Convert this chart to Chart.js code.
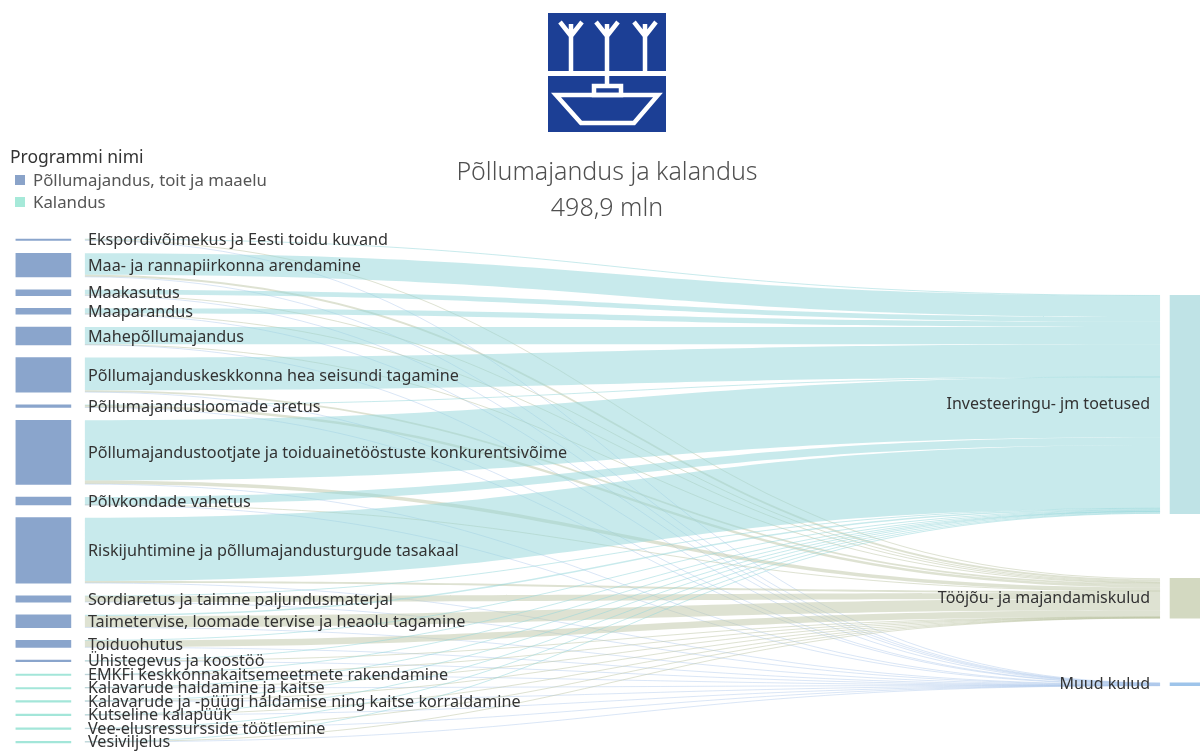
<!DOCTYPE html>
<html>
<head>
<meta charset="utf-8">
<script src="https://cdn.jsdelivr.net/npm/chart.js@4.4.1/dist/chart.umd.min.js"></script>
<style>
  html, body { margin:0; padding:0; background:#fff; width:1200px; height:754px; overflow:hidden; }
  #wrap { position:relative; width:1200px; height:754px; font-family:"Noto Sans", sans-serif; }
  #c { position:absolute; left:0; top:0; }
  #logo { position:absolute; left:548px; top:13px; }
  #title { position:absolute; left:0; width:1214px; top:152px; text-align:center; color:#4f4f4f; font-size:25px; line-height:36px; font-weight:300; }
  #legend { position:absolute; left:10px; top:144px; color:#555; }
  #legend .lt { font-size:17.5px; color:#333; line-height:25px; }
  #legend .li { font-size:16.8px; line-height:22px; padding-left:5px; }
  #legend .sw { display:inline-block; width:10px; height:10px; margin-right:8px; vertical-align:1px; }
</style>
</head>
<body>
<div id="wrap">
  <canvas id="c" width="1200" height="754"></canvas>
  <svg id="logo" width="118" height="119" viewBox="0 0 118 119">
    <rect x="0" y="0" width="118" height="58" fill="#1c3f95"/>
    <rect x="0" y="63" width="118" height="56" fill="#1c3f95"/>
    <g stroke="#fff" stroke-width="4.5" fill="none" stroke-linecap="butt" stroke-linejoin="miter">
      <path d="M23 58 V23 M12 9 L23 23 L34 9 M23 23 V11"/>
      <path d="M59 58 V23 M48 9 L59 23 L70 9 M59 23 V11"/>
      <path d="M97 58 V23 M86 9 L97 23 L108 9 M97 23 V11"/>
      <path d="M59 63 V73"/>
      <rect x="46" y="73" width="27" height="9"/>
      <path d="M8 82 H110 L86 110 H33 Z"/>
    </g>
  </svg>
  <div id="title">Põllumajandus ja kalandus<br>498,9 mln</div>
  <div id="legend">
    <div class="lt">Programmi nimi</div>
    <div class="li"><span class="sw" style="background:#8aa3c9"></span>Põllumajandus, toit ja maaelu</div>
    <div class="li"><span class="sw" style="background:#a6e9d9"></span>Kalandus</div>
  </div>
</div>
<script>
// ---- data (mln €) ----
const sources = [
  "Ekspordivõimekus ja Eesti toidu kuvand",
  "Maa- ja rannapiirkonna arendamine",
  "Maakasutus",
  "Maaparandus",
  "Mahepõllumajandus",
  "Põllumajanduskeskkonna hea seisundi tagamine",
  "Põllumajandusloomade aretus",
  "Põllumajandustootjate ja toiduainetööstuste konkurentsivõime",
  "Põlvkondade vahetus",
  "Riskijuhtimine ja põllumajandusturgude tasakaal",
  "Sordiaretus ja taimne paljundusmaterjal",
  "Taimetervise, loomade tervise ja heaolu tagamine",
  "Toiduohutus",
  "Ühistegevus ja koostöö",
  "EMKFi keskkonnakaitsemeetmete rakendamine",
  "Kalavarude haldamine ja kaitse",
  "Kalavarude ja -püügi haldamise ning kaitse korraldamine",
  "Kutseline kalapüük",
  "Vee-elusressursside töötlemine",
  "Vesiviljelus"
];
const programs = ["Põllumajandus, toit ja maaelu", "Kalandus"];
const sourceProgram = [0,0,0,0,0,0,0,0,0,0,0,0,0,0,1,1,1,1,1,1];
const targets = ["Investeeringu- jm toetused", "Tööjõu- ja majandamiskulud", "Muud kulud"];
const toInvest = [0.6, 42, 9.5, 10, 34, 64, 0.3, 118, 15.2, 124, 0.4, 2.5, 0.5, 1.5, 1.1, 0.3, 0.6, 1.6, 1.2, 0.9];
const toLabour = [2, 4, 1.8, 1.3, 0.8, 3.5, 4.5, 7, 0.2, 4, 11.5, 22, 13, 0.3, 0.3, 0.4, 0.8, 0.3, 0.2, 0.2];
const toOther  = [0.4, 0.5, 0.3, 0.3, 0.2, 0.4, 0.2, 0.7, 0.1, 0.5, 0.2, 0.5, 0.5, 0.2, 0.1, 0.1, 0.1, 0.1, 0.1, 0.1];

// ---- styles ----
const programColors = ["#8aa5cc", "#a3e6d9"];
const targetColors = ["#bfe3e6", "#d3d9c1", "#9ec4ea"];
const flowColors = ["rgba(150,214,218,0.52)", "rgba(190,198,166,0.5)", "rgba(172,200,236,0.45)"];
const GAP_L = 25;    // gap between left nodes (value units)
const GAP_R = 127;   // gap between right nodes (value units)
const LEFT_W = 55, RIGHT_W = 30;

// ---- layout in value space ----
const flowSets = [toInvest, toLabour, toOther];
const srcTotals = sources.map((_, i) => toInvest[i] + toLabour[i] + toOther[i]);
const tgtTotals = flowSets.map(a => a.reduce((s, v) => s + v, 0));
const leftNodes = [];
let acc = 0;
srcTotals.forEach((v, i) => { leftNodes.push({y0: acc, y1: acc + v}); acc += v + (i < srcTotals.length - 1 ? GAP_L : 0); });
const span = acc;
const rightSpan = tgtTotals.reduce((s, v) => s + v, 0) + GAP_R * (targets.length - 1);
const rightNodes = [];
acc = (span - rightSpan) / 2;
tgtTotals.forEach((v) => { rightNodes.push({y0: acc, y1: acc + v}); acc += v + GAP_R; });

const flows = [];
const srcOff = leftNodes.map(n => n.y0);
const tgtOff = rightNodes.map(n => n.y0);
sources.forEach((_, i) => {
  flowSets.forEach((arr, t) => {
    const v = arr[i];
    flows.push({t, s0: srcOff[i], s1: srcOff[i] + v, t0: tgtOff[t], t1: tgtOff[t] + v});
    srcOff[i] += v; tgtOff[t] += v;
  });
});

const sankeyPlugin = {
  id: 'sankeyFlows',
  beforeDatasetsDraw(chart) {
    const {ctx} = chart; const xs = chart.scales.x, ys = chart.scales.y;
    const x0 = xs.getPixelForValue(0) + LEFT_W / 2 + 14;
    const x1 = xs.getPixelForValue(1) - RIGHT_W / 2 - 10;
    const xm = (x0 + x1) / 2;
    ctx.save();
    flows.forEach(f => {
      const sa = ys.getPixelForValue(f.s0), sb = ys.getPixelForValue(f.s1);
      const ta = ys.getPixelForValue(f.t0), tb = ys.getPixelForValue(f.t1);
      if (sb - sa >= 1) {
        ctx.beginPath();
        ctx.moveTo(x0, sa);
        ctx.bezierCurveTo(xm, sa, xm, ta, x1, ta);
        ctx.lineTo(x1, tb);
        ctx.bezierCurveTo(xm, tb, xm, sb, x0, sb);
        ctx.closePath();
        ctx.fillStyle = flowColors[f.t];
        ctx.fill();
      } else {
        const sc = (sa + sb) / 2, tc = (ta + tb) / 2;
        ctx.beginPath();
        ctx.moveTo(x0, sc);
        ctx.bezierCurveTo(xm, sc, xm, tc, x1, tc);
        ctx.lineWidth = 1;
        ctx.strokeStyle = flowColors[f.t];
        ctx.stroke();
      }
    });
    ctx.restore();
  },
  afterDatasetsDraw(chart) {
    const {ctx} = chart; const xs = chart.scales.x, ys = chart.scales.y;
    const x0 = xs.getPixelForValue(0) + LEFT_W / 2 + 17;
    const x1 = xs.getPixelForValue(1) - RIGHT_W / 2 - 20;
    ctx.save();
    ctx.fillStyle = "#333";
    ctx.textBaseline = "middle";
    ctx.font = '16.2px "Noto Sans"';
    ctx.textAlign = "left";
    sources.forEach((s, i) => {
      const y = ys.getPixelForValue((leftNodes[i].y0 + leftNodes[i].y1) / 2) + 1;
      ctx.fillText(s, x0, y);
    });
    ctx.textAlign = "right";
    ctx.font = '16px "Noto Sans"';
    targets.forEach((s, i) => {
      const y = ys.getPixelForValue((rightNodes[i].y0 + rightNodes[i].y1) / 2);
      ctx.fillText(s, x1, y);
    });
    ctx.restore();
  }
};

new Chart(document.getElementById('c'), {
  type: 'bar',
  data: {
    datasets: [
      {
        label: 'Programmid',
        data: leftNodes.map(n => ({x: 0, y: [n.y0, n.y1]})),
        backgroundColor: sourceProgram.map(p => programColors[p]),
        barThickness: LEFT_W, maxBarThickness: LEFT_W, minBarLength: 1.5,
        grouped: false, clip: false, borderWidth: 0
      },
      {
        label: 'Kululiigid',
        data: rightNodes.map(n => ({x: 1, y: [n.y0, n.y1]})),
        backgroundColor: targetColors,
        barThickness: RIGHT_W, maxBarThickness: RIGHT_W, minBarLength: 2,
        grouped: false, clip: false, borderWidth: 0
      }
    ]
  },
  options: {
    responsive: false,
    animation: false,
    devicePixelRatio: 1,
    layout: { padding: { top: 239, bottom: 12, left: 0, right: 0 } },
    scales: {
      x: { type: 'linear', min: -0.038, max: 1.0131, offset: false, display: false },
      y: { type: 'linear', min: 0, max: span, reverse: true, display: false }
    },
    plugins: { legend: { display: false }, tooltip: { enabled: false } }
  },
  plugins: [sankeyPlugin]
});
</script>
</body>
</html>
